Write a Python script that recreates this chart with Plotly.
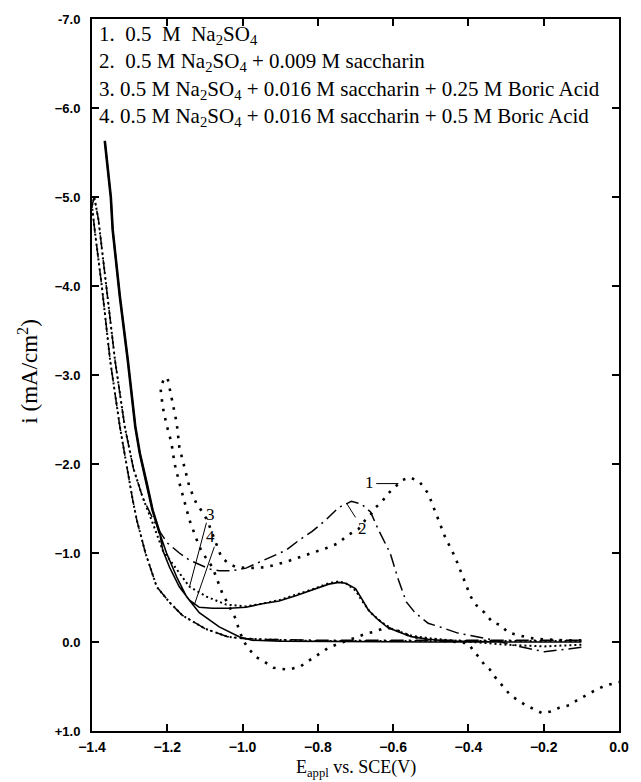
import plotly.graph_objects as go

# ---------------- data ----------------
# Curve 1: 0.5 M Na2SO4 (sparse dotted)
x1 = [-0.10, -0.15, -0.20, -0.238, -0.270, -0.296, -0.314, -0.336, -0.357, -0.375, -0.394, -0.409,
      -0.420, -0.431, -0.436, -0.462, -0.489, -0.507, -0.530, -0.555, -0.575, -0.594, -0.613, -0.631,
      -0.647, -0.660, -0.674, -0.692, -0.724, -0.745, -0.780, -0.816, -0.850, -0.885, -0.938, -0.980,
      -1.017, -1.040, -1.057, -1.075, -1.094, -1.110, -1.123, -1.141, -1.154, -1.168, -1.175, -1.191,
      -1.199, -1.208, -1.218, -1.212, -1.202, -1.189, -1.181, -1.168, -1.154, -1.141, -1.128, -1.115,
      -1.098, -1.080, -1.054, -1.030, -1.017, -1.010, -0.996, -0.983, -0.964, -0.943, -0.917, -0.880,
      -0.848, -0.824, -0.795, -0.770, -0.745, -0.697, -0.674, -0.647, -0.621, -0.600, -0.575, -0.552,
      -0.507, -0.450, -0.410, -0.400, -0.383, -0.370, -0.357, -0.343, -0.330, -0.304, -0.288, -0.248,
      -0.225, -0.204, -0.182, -0.159, -0.132, -0.106, -0.079, -0.058, -0.037, -0.013, 0.0]
y1 = [-0.02, -0.02, -0.03, -0.045, -0.08, -0.11, -0.19, -0.22, -0.33, -0.39, -0.51, -0.67,
      -0.79, -0.89, -0.96, -1.18, -1.48, -1.67, -1.80, -1.85, -1.82, -1.74, -1.67, -1.57,
      -1.51, -1.43, -1.37, -1.27, -1.19, -1.11, -1.05, -1.00, -0.95, -0.90, -0.84, -0.83,
      -0.84, -0.89, -0.96, -1.15, -1.37, -1.48, -1.56, -1.74, -1.97, -2.19, -2.46, -2.80,
      -2.96, -2.97, -2.85, -2.64, -2.44, -2.24, -2.01, -1.79, -1.56, -1.37, -1.22, -1.07,
      -0.95, -0.84, -0.55, -0.36, -0.25, -0.14, 0.00, 0.08, 0.17, 0.22, 0.29, 0.31,
      0.28, 0.21, 0.13, 0.06, 0.02, -0.06, -0.09, -0.12, -0.16, -0.15, -0.10, -0.06,
      -0.03, -0.01, 0.01, 0.02, 0.12, 0.18, 0.26, 0.31, 0.39, 0.52, 0.60, 0.71,
      0.76, 0.80, 0.78, 0.74, 0.71, 0.64, 0.58, 0.53, 0.49, 0.46, 0.45]

# Curve 2: 0.5 M Na2SO4 + 0.009 M saccharin (dash-dot)
x2 = [-0.10, -0.156, -0.198, -0.243, -0.288, -0.330, -0.375, -0.428, -0.476, -0.507, -0.542, -0.565,
      -0.586, -0.608, -0.639, -0.660, -0.684, -0.711, -0.745, -0.779, -0.816, -0.851, -0.885, -0.922,
      -0.956, -0.991, -1.028, -1.062, -1.088, -1.115, -1.141, -1.168, -1.199, -1.220, -1.240, -1.265,
      -1.290, -1.313, -1.339, -1.362, -1.383, -1.394,
      -1.400, -1.392, -1.374, -1.352, -1.326, -1.292, -1.281, -1.258, -1.228, -1.195, -1.160, -1.100,
      -1.040, -1.000, -0.950, -0.800, -0.500, -0.100]
y2 = [0.06, 0.09, 0.11, 0.07, 0.03, -0.02, -0.06, -0.10, -0.17, -0.21, -0.33, -0.45,
      -0.70, -1.00, -1.26, -1.46, -1.55, -1.58, -1.51, -1.37, -1.24, -1.14, -1.03, -0.96,
      -0.89, -0.83, -0.80, -0.80, -0.82, -0.87, -0.92, -1.00, -1.11, -1.24, -1.40, -1.62,
      -1.95, -2.42, -3.17, -4.00, -4.75, -5.00,
      -4.90, -4.60, -4.00, -3.17, -2.42, -1.60, -1.37, -1.00, -0.62, -0.45, -0.30, -0.15,
      -0.06, -0.04, -0.03, -0.02, -0.02, -0.02]

# Curve 3: + 0.016 M saccharin + 0.25 M boric acid (dense dotted)
x3 = [-0.10, -0.20, -0.30, -0.40, -0.45, -0.50, -0.55, -0.60, -0.63, -0.66, -0.684, -0.700,
      -0.726, -0.745, -0.771, -0.816, -0.859, -0.903, -0.948, -0.991, -1.043, -1.096, -1.141, -1.175,
      -1.212, -1.240, -1.265, -1.290, -1.313, -1.339, -1.362, -1.383, -1.394,
      -1.400, -1.392, -1.374, -1.352, -1.326, -1.292, -1.281, -1.258, -1.228, -1.195, -1.160, -1.100,
      -1.040, -1.000, -0.950, -0.800, -0.500, -0.100]
y3 = [0.03, 0.05, 0.03, 0.00, -0.02, -0.04, -0.07, -0.14, -0.22, -0.33, -0.47, -0.58,
      -0.66, -0.68, -0.66, -0.59, -0.53, -0.47, -0.43, -0.40, -0.42, -0.51, -0.62, -0.81,
      -1.03, -1.35, -1.62, -1.95, -2.42, -3.17, -4.00, -4.75, -5.00,
      -4.90, -4.60, -4.00, -3.17, -2.42, -1.60, -1.37, -1.00, -0.62, -0.45, -0.30, -0.15,
      -0.06, -0.04, -0.03, -0.01, -0.01, -0.01]

# Curve 4: + 0.016 M saccharin + 0.5 M boric acid (solid)
x4 = [-0.10, -0.30, -0.45, -0.507, -0.552, -0.590, -0.613, -0.640, -0.666, -0.684, -0.700, -0.726,
      -0.745, -0.771, -0.816, -0.859, -0.903, -0.948, -0.991, -1.035, -1.080, -1.115, -1.141, -1.168,
      -1.194, -1.212, -1.220, -1.239, -1.255, -1.273, -1.285, -1.305, -1.326, -1.345, -1.350, -1.366,
      -1.350, -1.345, -1.326, -1.305, -1.285, -1.273, -1.255, -1.239, -1.220, -1.202, -1.175, -1.149,
      -1.115, -1.062, -1.009, -0.975, -0.900, -0.500, -0.100]
y4 = [0.00, 0.00, -0.01, -0.03, -0.06, -0.12, -0.16, -0.25, -0.36, -0.49, -0.60, -0.66,
      -0.67, -0.65, -0.58, -0.52, -0.46, -0.43, -0.39, -0.38, -0.38, -0.39, -0.47, -0.62,
      -0.84, -1.03, -1.22, -1.48, -1.79, -2.12, -2.42, -3.17, -3.88, -4.63, -5.00, -5.63,
      -5.00, -4.63, -3.88, -3.17, -2.42, -2.12, -1.79, -1.48, -1.22, -1.00, -0.73, -0.51,
      -0.33, -0.17, -0.06, -0.02, -0.01, 0.00, 0.00]

x_ticks = [-1.4, -1.2, -1.0, -0.8, -0.6, -0.4, -0.2, 0.0]
x_ticktext = ["\u22121.4", "\u22121.2", "\u22121.0", "\u22120.8", "\u22120.6", "\u22120.4", "\u22120.2", "0.0"]
y_ticks = [-7, -6, -5, -4, -3, -2, -1, 0, 1]
y_ticktext = ["-7.0", "\u22126.0", "\u22125.0", "\u22124.0", "\u22123.0", "\u22122.0", "\u22121.0", "0.0", "+1.0"]

legend_lines = [
    "1.  0.5  M  Na<sub>2</sub>SO<sub>4</sub>",
    "2.  0.5 M Na<sub>2</sub>SO<sub>4</sub> + 0.009 M saccharin",
    "3. 0.5 M Na<sub>2</sub>SO<sub>4</sub> + 0.016 M saccharin + 0.25 M Boric Acid",
    "4. 0.5 M Na<sub>2</sub>SO<sub>4</sub> + 0.016 M saccharin + 0.5 M Boric Acid",
]

# ---------------- figure ----------------
steep = slice(26, 45)  # steep hydrogen-evolution part of curve 4 (both sweeps overlap -> heavier)

fig = go.Figure()
fig.add_trace(go.Scatter(x=x4, y=y4, mode="lines", line=dict(color="black", width=1.6), showlegend=False))
fig.add_trace(go.Scatter(x=x4[steep], y=y4[steep], mode="lines",
                         line=dict(color="black", width=2.6), showlegend=False))
fig.add_trace(go.Scatter(x=x3, y=y3, mode="lines",
                         line=dict(color="black", width=2, dash="2px,3px"), showlegend=False))
fig.add_trace(go.Scatter(x=x2, y=y2, mode="lines",
                         line=dict(color="black", width=1.5, dash="13px,5px,2px,5px"), showlegend=False))
fig.add_trace(go.Scatter(x=x1, y=y1, mode="lines",
                         line=dict(color="black", width=2.6, dash="2.6px,7px"), showlegend=False))

serif = "Liberation Serif, Times New Roman, serif"
sans = "Liberation Sans, Arial, sans-serif"

anns = []
for i, t in enumerate(legend_lines):
    anns.append(dict(x=0.0094, y=0.9775 - i * 0.0385, xref="paper", yref="paper", text=t,
                     showarrow=False, xanchor="left", yanchor="middle",
                     font=dict(family=serif, size=21, color="black")))

# curve labels with leader lines
lab_font = dict(family=serif, size=17, color="black")
anns += [
    dict(x=-0.662, y=-1.79, xref="x", yref="y", text="1", showarrow=False, font=lab_font),
    dict(x=-0.682, y=-1.28, xref="x", yref="y", text="2", showarrow=False, font=lab_font),
    dict(x=-1.084, y=-1.43, xref="x", yref="y", text="3", showarrow=False, font=lab_font),
    dict(x=-1.084, y=-1.18, xref="x", yref="y", text="4", showarrow=False, font=lab_font),
]
shapes = [
    dict(type="line", xref="x", yref="y", x0=-0.645, y0=-1.78, x1=-0.586, y1=-1.78,
         line=dict(color="black", width=1)),
    dict(type="line", xref="x", yref="y", x0=-0.700, y0=-1.40, x1=-0.724, y1=-1.56,
         line=dict(color="black", width=1)),
    dict(type="line", xref="x", yref="y", x0=-1.096, y0=-1.34, x1=-1.141, y1=-0.62,
         line=dict(color="black", width=1)),
    dict(type="line", xref="x", yref="y", x0=-1.075, y0=-1.07, x1=-1.128, y1=-0.42,
         line=dict(color="black", width=1)),
]

# axis titles
anns.append(dict(x=0.5, y=-0.0716, xref="paper", yref="paper",
                 text="E<sub>appl</sub> vs. SCE(V)", showarrow=False,
                 xanchor="center", yanchor="bottom",
                 font=dict(family=serif, size=18, color="black")))
anns.append(dict(x=-0.121, y=0.505, xref="paper", yref="paper",
                 text="i (mA/cm<sup>2</sup>)", showarrow=False, textangle=-90,
                 xanchor="center", yanchor="middle",
                 font=dict(family=serif, size=23, color="black")))

fig.update_layout(
    width=641, height=782,
    margin=dict(l=92, r=19, t=19, b=51),
    paper_bgcolor="white", plot_bgcolor="white",
    annotations=anns, shapes=shapes,
    showlegend=False,
)
fig.update_xaxes(range=[-1.4, 0.0], tickvals=x_ticks, ticktext=x_ticktext,
                 showgrid=False, zeroline=False, showline=True, linecolor="black", linewidth=2,
                 mirror="allticks", ticks="inside", ticklen=7, tickwidth=1.5, tickcolor="black",
                 ticklabelstandoff=2,
                 tickfont=dict(family=sans, size=14, color="black", weight="bold"))
fig.update_yaxes(range=[1, -7], tickvals=y_ticks, ticktext=y_ticktext,
                 showgrid=False, zeroline=False, showline=True, linecolor="black", linewidth=2,
                 mirror="allticks", ticks="inside", ticklen=7, tickwidth=1.5, tickcolor="black",
                 ticklabelstandoff=7,
                 tickfont=dict(family=sans, size=13, color="black", weight="bold"))

fig.write_html("out.html")
